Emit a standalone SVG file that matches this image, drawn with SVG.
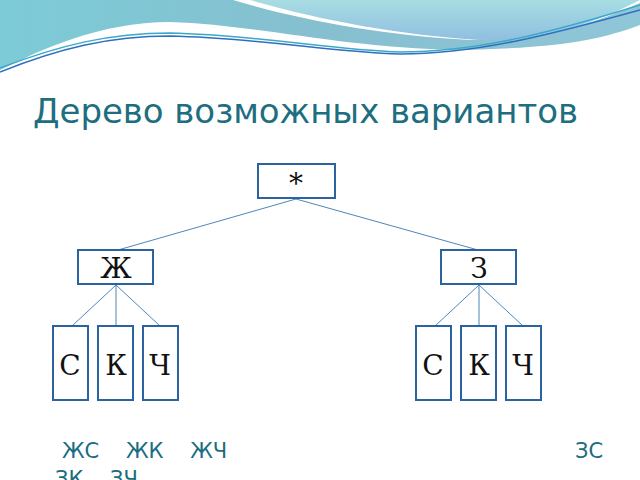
<svg xmlns="http://www.w3.org/2000/svg" width="640" height="480" viewBox="0 0 640 480">
<defs>
<linearGradient id="g1" x1="0" y1="0" x2="1" y2="0"><stop offset="0" stop-color="#7ccbd6"/><stop offset="0.5" stop-color="#86bfd0"/><stop offset="1" stop-color="#8fc6d8"/></linearGradient>
<linearGradient id="g2" x1="0" y1="0" x2="0" y2="1"><stop offset="0" stop-color="#a8dde3"/><stop offset="1" stop-color="#90bfe0"/></linearGradient>
</defs>
<style>
.b{fill:#fff;stroke:#2a63a0;stroke-width:2}
.t{font-family:"DejaVu Serif",serif;font-size:28px;fill:#111;text-anchor:middle}
.c line{stroke:#4f86b8;stroke-width:1}
.r{font-family:"DejaVu Sans",sans-serif;font-size:21px;fill:#1a6d80}
</style>
<rect width="640" height="480" fill="#fff"/>
<path d="M0,0 H640 V25 C600,40 560,48 460,50 C340,48 260,25 170,22 C100,22 40,50 0,70 Z" fill="url(#g1)"/>
<path d="M233,0 H640 V3 C600,20 560,38 470,40 C380,35 300,20 233,0 Z" fill="#fff"/>
<path d="M250,0 H640 C600,20 560,38 480,40 C400,35 320,20 250,0 Z" fill="url(#g2)"/>
<path d="M0,68 C60,45 110,33 170,33 C260,35 330,50 400,52 C480,52 560,30 640,5" fill="none" stroke="#3aa9c8" stroke-width="1.5"/>
<path d="M0,72 C60,48 110,36 170,36 C260,38 330,52 400,54 C480,54 560,32 640,10" fill="none" stroke="#2f6fc0" stroke-width="1.5"/>
<text x="33" y="123" font-family="DejaVu Sans,sans-serif" font-size="34" textLength="545" fill="#1d6e80">Дерево возможных вариантов</text>
<g class="c">
<line x1="296" y1="199" x2="118" y2="250"/><line x1="296" y1="199" x2="478" y2="250"/>
<line x1="116" y1="285" x2="72" y2="326"/><line x1="116" y1="285" x2="116" y2="326"/><line x1="116" y1="285" x2="160" y2="326"/>
<line x1="479" y1="285" x2="435" y2="326"/><line x1="479" y1="285" x2="479" y2="326"/><line x1="479" y1="285" x2="523" y2="326"/>
</g>
<g id="root"><rect class="b" x="258" y="164" width="77" height="34"/><text class="t" x="296" y="193">*</text></g>
<g id="zh"><rect class="b" x="78" y="250" width="75" height="34"/><text class="t" x="116" y="278">Ж</text></g>
<g id="z"><rect class="b" x="441" y="250" width="75" height="34"/><text class="t" x="479" y="278">З</text></g>
<g id="zs"><rect class="b" x="53" y="326" width="35" height="74"/><text class="t" x="70" y="375">С</text></g>
<g id="zk"><rect class="b" x="98" y="326" width="35" height="74"/><text class="t" x="116" y="375">К</text></g>
<g id="zch"><rect class="b" x="143" y="326" width="35" height="74"/><text class="t" x="160" y="375">Ч</text></g>
<g id="s2"><rect class="b" x="416" y="326" width="35" height="74"/><text class="t" x="433" y="375">С</text></g>
<g id="k2"><rect class="b" x="461" y="326" width="35" height="74"/><text class="t" x="479" y="375">К</text></g>
<g id="ch2"><rect class="b" x="506" y="326" width="35" height="74"/><text class="t" x="523" y="375">Ч</text></g>
<text class="r" x="62" y="458" xml:space="preserve">ЖС    ЖК    ЖЧ</text>
<text class="r" x="575" y="458">ЗС</text>
<text class="r" x="55" y="486" xml:space="preserve">ЗК    ЗЧ</text>
</svg>
